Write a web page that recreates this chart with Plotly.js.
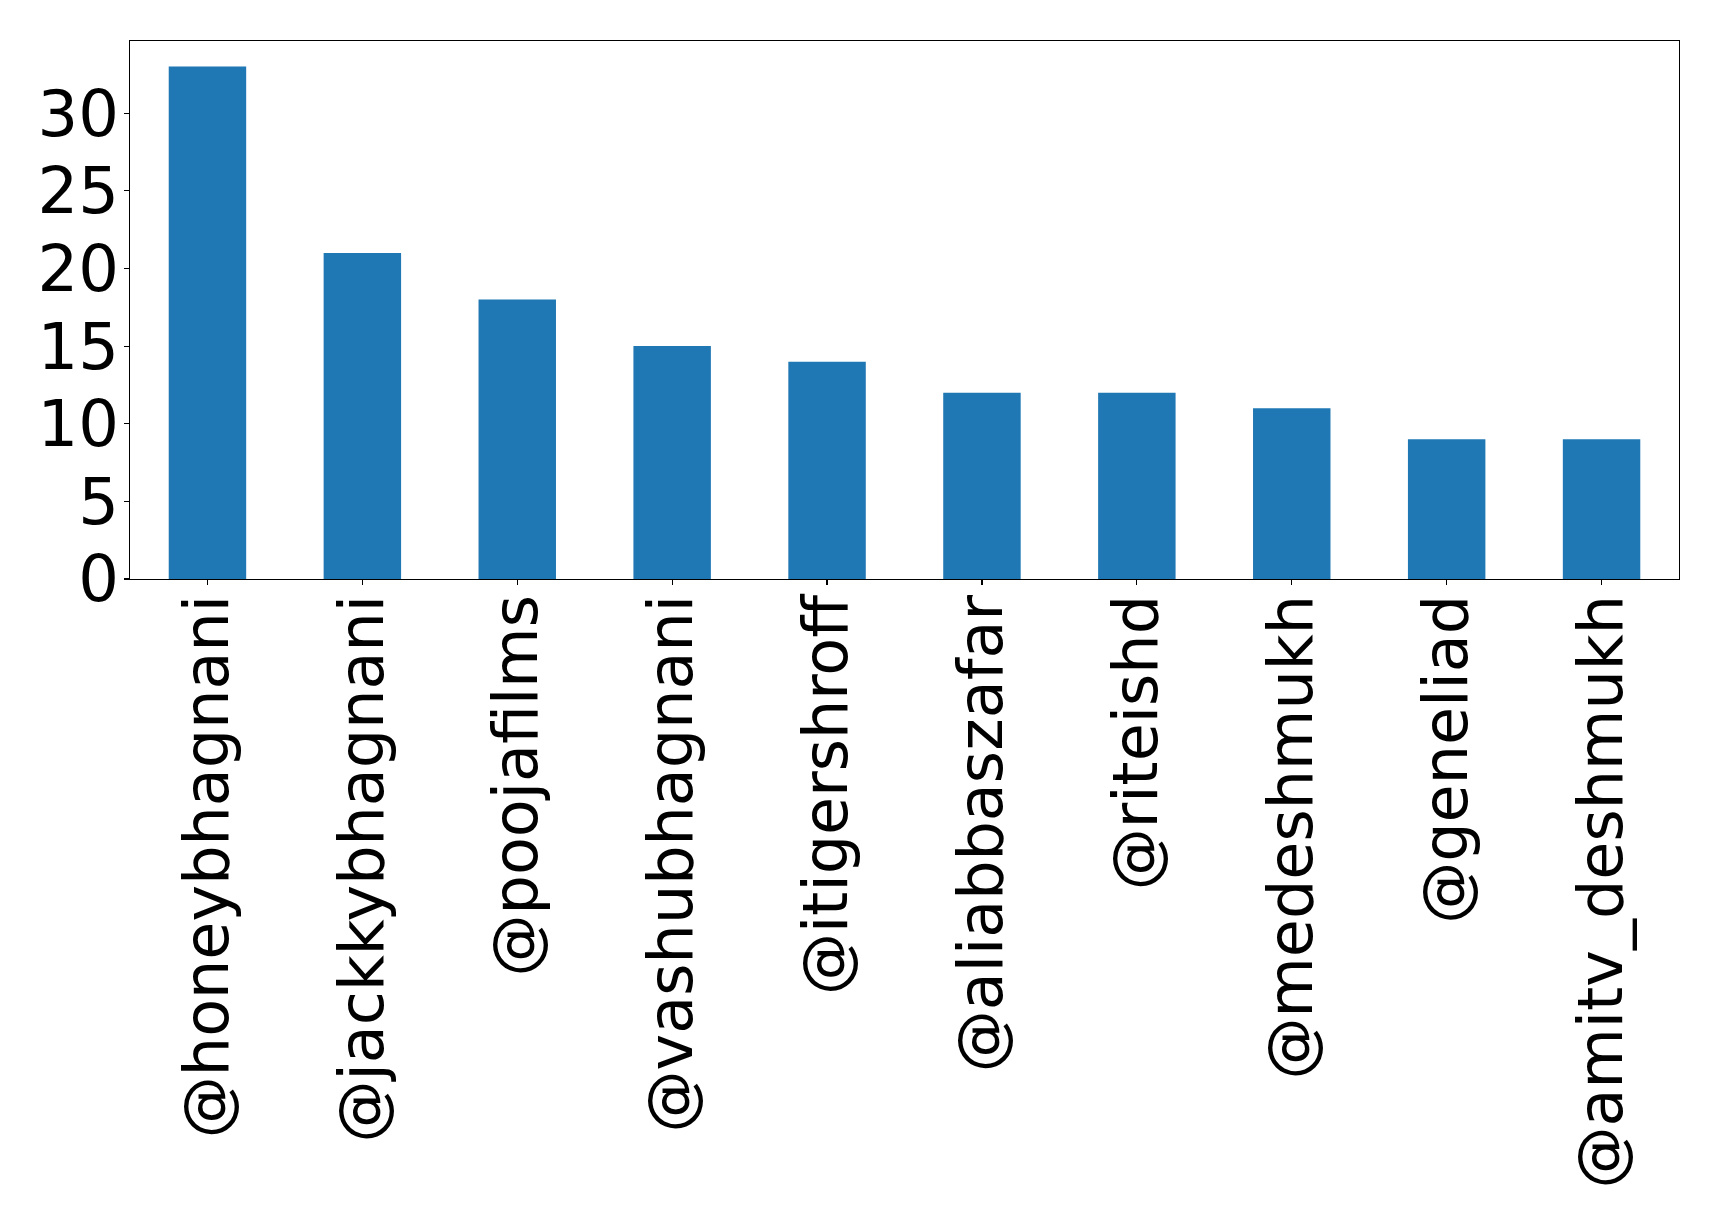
<!DOCTYPE html>
<html>
<head>
<meta charset="utf-8">
<script src="https://cdn.plot.ly/plotly-3.0.1.min.js"></script>
<style>html,body{margin:0;padding:0;background:#fff;}#chart{width:1719px;height:1226px;}</style>
</head>
<body>
<div id="chart"></div>
<script>
const categories = ["@honeybhagnani","@jackkybhagnani","@poojafilms","@vashubhagnani","@itigershroff","@aliabbaszafar","@riteishd","@medeshmukh","@geneliad","@amitv_deshmukh"];
const counts = [33, 21, 18, 15, 14, 12, 12, 11, 9, 9];
const yTicks = [0, 5, 10, 15, 20, 25, 30];

const trace = {
  type: 'bar',
  x: categories,
  y: counts,
  marker: {color: '#1f77b4', line: {width: 0}},
  width: 0.5,
  hoverinfo: 'x+y'
};

const layout = {
  width: 1719, height: 1226,
  margin: {l: 129.5, r: 39.5, t: 40.5, b: 647, pad: 0},
  paper_bgcolor: '#fff', plot_bgcolor: '#fff',
  showlegend: false,
  font: {family: 'DejaVu Sans', color: '#000', size: 62},
  xaxis: {
    type: 'category',
    range: [-0.5, 9.5],
    tickangle: -90,
    ticks: 'outside', ticklen: 5, tickwidth: 1.2, tickcolor: '#000',
    ticklabelstandoff: -15,
    showline: true, linecolor: '#000', linewidth: 1.2, mirror: true,
    showgrid: false, zeroline: false,
    tickfont: {family: 'DejaVu Sans', size: 62, color: '#000'}
  },
  yaxis: {
    range: [0, 34.65],
    tickvals: yTicks,
    ticktext: yTicks.map(String),
    ticks: 'outside', ticklen: 5, tickwidth: 1.2, tickcolor: '#000',
    ticklabelstandoff: -8,
    showline: true, linecolor: '#000', linewidth: 1.2, mirror: true,
    showgrid: false, zeroline: false,
    tickfont: {family: 'DejaVu Sans', size: 64, color: '#000'}
  }
};

Plotly.newPlot('chart', [trace], layout, {displayModeBar: false, staticPlot: true});
</script>
</body>
</html>
